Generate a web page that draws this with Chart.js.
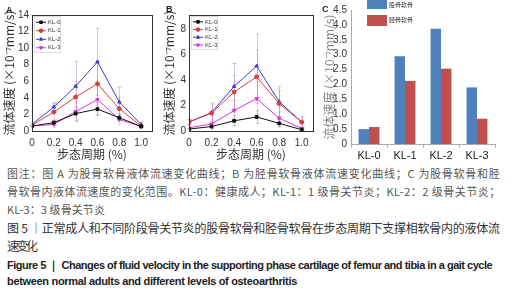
<!DOCTYPE html>
<html>
<head>
<meta charset="utf-8">
<script src="https://cdn.jsdelivr.net/npm/chart.js@4.4.0/dist/chart.umd.min.js"></script>
<style>
  body { margin: 0; width: 511px; height: 300px; background: #fff; position: relative; overflow: hidden; }
  canvas { position: absolute; }
  .letter { position: absolute; font: bold 9px "Liberation Sans", Arial, sans-serif; color: #222; }
  .cap { position: absolute; left: 7px; white-space: nowrap; font-family: "Noto Sans CJK SC", sans-serif; }
  .g { font-size: 11px; color: #555; }
  .t { font-size: 12px; color: #333; }
  .e { font-family: "Liberation Sans Narrow", "Liberation Sans", Arial, sans-serif; font-weight: bold; font-size: 11px; color: #222; }
</style>
</head>
<body>
<canvas id="chartA" width="160" height="162" style="left:0;top:0"></canvas>
<canvas id="chartB" width="162" height="162" style="left:160px;top:0"></canvas>
<canvas id="chartC" width="189" height="162" style="left:322px;top:0"></canvas>
<div class="letter" style="left:6px;top:5px">A</div>
<div class="letter" style="left:166px;top:4px">B</div>
<div class="letter" style="left:322px;top:4px">C</div>

<div class="cap g" style="top:165px" data-w="493">图注：图 A 为股骨软骨液体流速变化曲线；B 为胫骨软骨液体流速变化曲线；C 为股骨软骨和胫</div>
<div class="cap g" style="top:183px" data-w="493">骨软骨内液体流速度的变化范围。KL-0：健康成人；KL-1：1 级骨关节炎；KL-2：2 级骨关节炎；</div>
<div class="cap g" style="top:201px" data-w="98">KL-3：3 级骨关节炎</div>
<div class="cap t" style="top:219px" data-w="493">图 5 ｜正常成人和不同阶段骨关节炎的股骨软骨和胫骨软骨在步态周期下支撑相软骨内的液体流</div>
<div class="cap t" style="top:237px" data-w="31">速变化</div>
<div class="cap e" style="top:258px" data-w="486">Figure 5 ｜ Changes of fluid velocity in the supporting phase cartilage of femur and tibia in a gait cycle</div>
<div class="cap e" style="top:275px" data-w="290">between normal adults and different levels of osteoarthritis</div>

<script>
// gait cycle positions and tick labels
const xVals = [0, 0.2, 0.4, 0.6, 0.8, 1.0];
const xTicks = [0, 0.2, 0.4, 0.6, 0.8, 1.0];
const yTicksA = [0, 2, 4, 6, 8, 10, 12, 14];
const yTicksB = [0, 2, 4, 6, 8];
const yTicksC = [0, 0.5, 1.0, 1.5, 2.0, 2.5, 3.0, 3.5, 4.0, 4.5];
const seriesNames = ['KL-0', 'KL-1', 'KL-2', 'KL-3'];

// A: femur cartilage
const femurKL0 = [0.6, 1.0, 2.1, 2.65, 1.6, 0.55];
const femurKL1 = [0.7, 2.3, 4.1, 5.7, 2.7, 0.6];
const femurKL2 = [0.8, 2.9, 5.4, 8.35, 3.5, 0.8];
const femurKL3 = [0.6, 0.8, 2.35, 3.8, 1.4, 0.55];
const femurErr0 = [0.1, 0.3, 0.8, 0.8, 0.4, 0.1];
const femurErr1 = [0.1, 1.0, 1.9, 2.6, 1.4, 0.2];
const femurErr2 = [0.2, 0.5, 3.0, 4.05, 1.8, 0.3];
const femurErr3 = [0.1, 0.4, 1.2, 1.8, 0.6, 0.1];

// B: tibia cartilage
const tibiaKL0 = [0.15, 0.35, 0.8, 1.1, 0.6, 0.1];
const tibiaKL1 = [0.7, 1.4, 3.05, 4.25, 2.15, 0.7];
const tibiaKL2 = [0.7, 1.45, 3.5, 5.1, 2.3, 0.7];
const tibiaKL3 = [0.25, 0.55, 1.6, 2.55, 1.0, 0.2];
const tibiaErr0 = [0.05, 0.2, 0.4, 0.5, 0.3, 0.05];
const tibiaErr1 = [0.2, 0.7, 1.3, 2.1, 1.0, 0.3];
const tibiaErr2 = [0.2, 0.75, 1.8, 2.5, 1.2, 0.45];
const tibiaErr3 = [0.1, 0.3, 0.8, 1.3, 0.5, 0.1];

// C: range
const groups = ['KL-0', 'KL-1', 'KL-2', 'KL-3'];
const femurRange = [0.5, 2.95, 3.87, 1.9];
const tibiaRange = [0.57, 2.12, 2.53, 0.85];
const barNames = ['股骨软骨', '胫骨软骨'];

const colors = ['#111111', '#d9403f', '#3b3bd0', '#e030e0'];
const errColors = ['rgba(0,0,0,0.22)', 'rgba(220,80,80,0.28)', 'rgba(90,90,200,0.32)', 'rgba(220,80,220,0.28)'];
const shapes = ['rect', 'circle', 'triangle', 'triangle'];
const rotations = [0, 0, 0, 180];

const yTitle = '流体速度 (×10⁻⁷mm/s)';
const tickFont = { family: 'Liberation Sans', size: 10 };
const titleFont = { family: 'Noto Sans CJK SC', size: 12 };

const errorBars = {
  id: 'errorBars',
  beforeDatasetsDraw(chart) {
    const ctx = chart.ctx, xs = chart.scales.x, ys = chart.scales.y;
    chart.data.datasets.forEach(ds => {
      if (!ds.err) return;
      ctx.save();
      ctx.strokeStyle = ds.errColor;
      ctx.lineWidth = 1;
      ds.data.forEach((p, i) => {
        const e = ds.err[i];
        const x = Math.round(xs.getPixelForValue(p.x)) + 0.5;
        const top = ys.getPixelForValue(p.y + e);
        const bot = ys.getPixelForValue(Math.max(0, p.y - e));
        ctx.beginPath();
        ctx.moveTo(x, top); ctx.lineTo(x, bot);
        ctx.moveTo(x - 2, top); ctx.lineTo(x + 2, top);
        ctx.moveTo(x - 2, bot); ctx.lineTo(x + 2, bot);
        ctx.stroke();
      });
      ctx.restore();
    });
  }
};

const frame = {
  id: 'frame',
  afterDraw(chart) {
    const a = chart.chartArea, ctx = chart.ctx;
    ctx.save();
    ctx.strokeStyle = '#333';
    ctx.lineWidth = 1;
    ctx.strokeRect(Math.round(a.left) + 0.5, Math.round(a.top) + 0.5, Math.round(a.right - a.left), Math.round(a.bottom - a.top));
    ctx.restore();
  }
};

const innerLegend = {
  id: 'innerLegend',
  afterDraw(chart, args, opts) {
    const a = chart.chartArea, ctx = chart.ctx;
    const left = a.left + 2, top = a.top + 1, step = opts.step;
    ctx.save();
    ctx.strokeStyle = '#ddd';
    ctx.lineWidth = 1;
    ctx.strokeRect(left + 0.5, top + 0.5, 26, step * 4 + 2);
    chart.data.datasets.forEach((ds, i) => {
      const y = top + 3 + step * i + step / 2 - 1;
      ctx.strokeStyle = ds.borderColor;
      ctx.beginPath();
      ctx.moveTo(left + 2, y); ctx.lineTo(left + 12, y);
      ctx.stroke();
      Chart.helpers.drawPoint(ctx, { pointStyle: ds.pointStyle, rotation: ds.pointRotation, radius: 1.8, borderWidth: 1 }, left + 7, y);
      ctx.fillStyle = ds.borderColor;
      ctx.fill();
      ctx.fillStyle = '#333';
      ctx.font = '6px "Liberation Sans"';
      ctx.textBaseline = 'middle';
      ctx.fillText(ds.label, left + 14, y);
    });
    ctx.restore();
  }
};

function lineDatasets(series, errs) {
  return series.map((vals, i) => ({
    label: seriesNames[i],
    data: xVals.map((x, k) => ({ x: x, y: vals[k] })),
    err: errs[i],
    errColor: errColors[i],
    borderColor: colors[i],
    backgroundColor: colors[i],
    pointStyle: shapes[i],
    pointRotation: rotations[i],
    pointRadius: 2,
    borderWidth: 1,
    tension: 0
  }));
}

function lineChart(id, series, errs, yTicks, yMax, yWidth, padRight, legendStep) {
  return new Chart(document.getElementById(id), {
    type: 'line',
    data: { datasets: lineDatasets(series, errs) },
    plugins: [errorBars, frame, innerLegend],
    options: {
      responsive: false,
      animation: false,
      layout: { padding: { top: 15, right: padRight, left: 0, bottom: 0 } },
      plugins: { legend: { display: false }, tooltip: { enabled: false }, innerLegend: { step: legendStep } },
      scales: {
        x: {
          type: 'linear', min: 0, max: 1.1,
          grid: { display: false, drawTicks: false }, border: { display: false },
          afterBuildTicks: s => { s.ticks = xTicks.map(v => ({ value: v })); },
          afterFit: s => { s.height = 31; },
          ticks: { font: tickFont, color: '#333', padding: 6, maxRotation: 0, autoSkip: false, callback: v => v === 0 ? '0' : v.toFixed(1) },
          title: { display: true, text: '步态周期 (%)', font: titleFont, color: '#333', padding: { top: 0, bottom: 0 } }
        },
        y: {
          min: 0, max: yMax,
          grid: { display: false, drawTicks: false }, border: { display: false },
          afterBuildTicks: s => { s.ticks = yTicks.map(v => ({ value: v })); },
          afterFit: s => { s.width = yWidth; },
          ticks: { font: tickFont, color: '#333', padding: 3, autoSkip: false },
          title: { display: true, text: yTitle, font: titleFont, color: '#333', padding: { top: 2, bottom: 0 } }
        }
      }
    }
  });
}

lineChart('chartA', [femurKL0, femurKL1, femurKL2, femurKL3], [femurErr0, femurErr1, femurErr2, femurErr3], yTicksA, 14, 32, 8, 8.5);
lineChart('chartB', [tibiaKL0, tibiaKL1, tibiaKL2, tibiaKL3], [tibiaErr0, tibiaErr1, tibiaErr2, tibiaErr3], yTicksB, 9.1, 29, 9, 7.7);

const barLegend = {
  id: 'barLegend',
  afterDraw(chart) {
    const ctx = chart.ctx;
    ctx.save();
    chart.data.datasets.forEach((ds, i) => {
      const y = i * 15;
      ctx.fillStyle = ds.backgroundColor;
      ctx.fillRect(45, y - (i === 0 ? 1 : 0), 20, i === 0 ? 10 : 11);
      ctx.fillStyle = '#333';
      ctx.font = '6px "Noto Sans CJK SC"';
      ctx.textBaseline = 'middle';
      ctx.fillText(ds.label, 67, y + 4.5);
    });
    ctx.restore();
  }
};

new Chart(document.getElementById('chartC'), {
  type: 'bar',
  data: {
    labels: groups,
    datasets: [
      { label: barNames[0], data: femurRange, backgroundColor: '#4f81bd' },
      { label: barNames[1], data: tibiaRange, backgroundColor: '#c0504d' }
    ]
  },
  plugins: [barLegend],
  options: {
    responsive: false,
    animation: false,
    layout: { padding: { top: 10, right: 16, left: 0, bottom: 0 } },
    plugins: { legend: { display: false }, tooltip: { enabled: false } },
    datasets: { bar: { barPercentage: 1, categoryPercentage: 0.58 } },
    scales: {
      x: {
        grid: { display: true, drawOnChartArea: false, offset: true, tickLength: 4, color: '#bbb' },
        border: { display: true, color: '#aaa' },
        afterFit: s => { s.height = 18; },
        ticks: { font: { family: 'Liberation Sans', size: 11 }, color: '#222', padding: 1 }
      },
      y: {
        min: 0, max: 4.5,
        grid: { display: false, drawTicks: false },
        border: { display: true, color: '#aaa' },
        afterBuildTicks: s => { s.ticks = yTicksC.map(v => ({ value: v })); },
        afterFit: s => { s.width = 29; },
        ticks: { font: { family: 'Liberation Sans', size: 10 }, color: '#333', padding: 4, autoSkip: false, callback: v => v === 0 ? '0' : v.toFixed(1) },
        title: { display: true, text: yTitle, font: titleFont, color: '#888', padding: { top: 0, bottom: 0 } }
      }
    }
  }
});

// stretch caption lines to their measured widths
document.querySelectorAll('.cap').forEach(el => {
  const target = +el.dataset.w;
  const n = el.textContent.length;
  const natural = el.scrollWidth;
  el.style.letterSpacing = ((target - natural) / (n - 1)) + 'px';
});
</script>
</body>
</html>
